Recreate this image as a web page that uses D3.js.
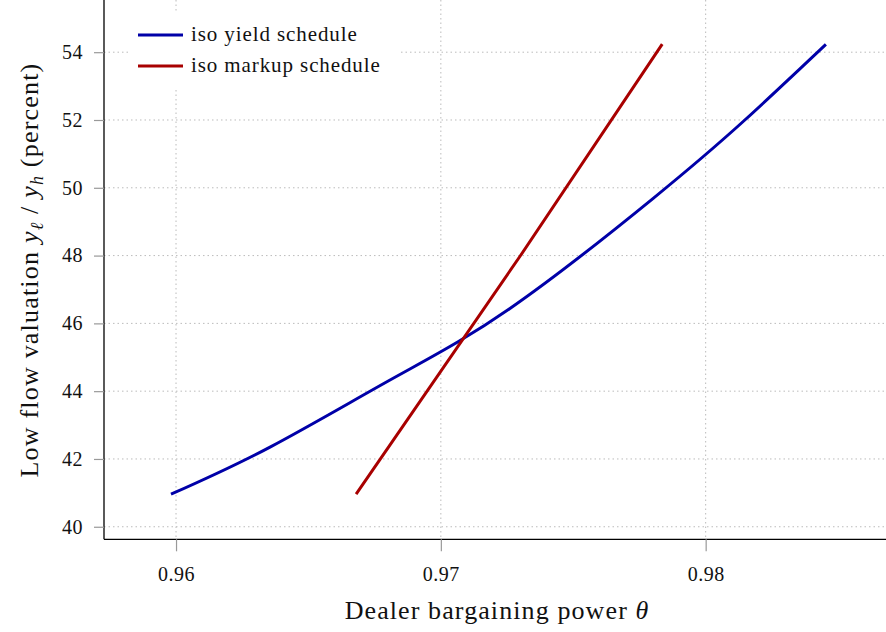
<!DOCTYPE html>
<html>
<head>
<meta charset="utf-8">
<script src="https://cdn.jsdelivr.net/npm/d3@7"></script>
<style>
  body { margin: 0; background: #fff; }
  svg text { font-family: "Liberation Serif", "DejaVu Serif", serif; fill: #111; }
  .grid line { stroke: #bbb; stroke-dasharray: 1.5 3; stroke-width: 1; }
  .axis .tick line { stroke: #999; stroke-width: 1.2; }
  .axis path.domain { stroke: #000; stroke-width: 1.3; }
</style>
</head>
<body>
<div id="chart"></div>
<script>
var yieldTheta = [0.95981, 0.96355, 0.96820, 0.97261, 0.97802, 0.98148, 0.98454];
var yieldVal = [40.96, 42.35, 44.38, 46.44, 49.69, 52.00, 54.23];
var markupTheta = [0.96680, 0.97299, 0.97836];
var markupVal = [40.96, 47.98, 54.24];
var xTicks = [0.96, 0.97, 0.98];
var yTicks = [40, 42, 44, 46, 48, 50, 52, 54];
var seriesNames = ["iso yield schedule", "iso markup schedule"];
var seriesColors = ["#0000a8", "#a80000"];

var width = 886, height = 632;
var margin = {left: 104, right: 0, top: 0, bottom: 92.7};

var svg = d3.select("#chart").append("svg")
  .attr("width", width)
  .attr("height", height);

var xScale = d3.scaleLinear()
  .domain([0.95728, 0.98681])
  .range([margin.left, width - margin.right]);
var yScale = d3.scaleLinear()
  .domain([39.63, 55.54])
  .range([height - margin.bottom, margin.top]);

// grid
var grid = svg.append("g").attr("class", "grid");
grid.selectAll("line.h")
  .data(yTicks)
  .enter().append("line")
  .attr("class", "h")
  .attr("x1", margin.left).attr("x2", width)
  .attr("y1", d => yScale(d)).attr("y2", d => yScale(d));
grid.selectAll("line.v")
  .data(xTicks)
  .enter().append("line")
  .attr("class", "v")
  .attr("x1", d => xScale(d)).attr("x2", d => xScale(d))
  .attr("y1", 0).attr("y2", height - margin.bottom);

// lines
var series = [
  {name: seriesNames[0], color: seriesColors[0], pts: yieldTheta.map((t, i) => [t, yieldVal[i]])},
  {name: seriesNames[1], color: seriesColors[1], pts: markupTheta.map((t, i) => [t, markupVal[i]])}
];

var line = d3.line()
  .x(d => xScale(d[0]))
  .y(d => yScale(d[1]))
  .curve(d3.curveNatural);

svg.selectAll("path.series")
  .data(series)
  .enter().append("path")
  .attr("class", "series")
  .attr("d", d => line(d.pts))
  .attr("fill", "none")
  .attr("stroke", d => d.color)
  .attr("stroke-width", 3);

// axes
var xAxis = d3.axisBottom(xScale).tickValues(xTicks).tickSizeInner(12).tickSizeOuter(0)
  .tickPadding(16).tickFormat(d3.format(".2f"));
var yAxis = d3.axisLeft(yScale).tickValues(yTicks).tickSizeInner(10).tickSizeOuter(0)
  .tickPadding(11).tickFormat(d3.format("d"));

var gx = svg.append("g")
  .attr("class", "x axis")
  .attr("transform", "translate(0," + (height - margin.bottom) + ")")
  .call(xAxis);
gx.select("path.domain").attr("d", "M" + margin.left + ",0H" + width);
gx.selectAll("text").style("font-size", "20px").style("letter-spacing", "0.5px");

var gy = svg.append("g")
  .attr("class", "y axis")
  .attr("transform", "translate(" + margin.left + ",0)")
  .call(yAxis);
gy.select("path.domain").attr("d", "M0,0V" + (height - margin.bottom));
gy.selectAll("text").style("font-size", "20px").style("letter-spacing", "0.5px");

// axis labels
svg.append("text")
  .attr("x", 497)
  .attr("y", 619)
  .attr("text-anchor", "middle")
  .style("font-size", "26px")
  .style("letter-spacing", "1.1px")
  .call(t => {
    t.append("tspan").text("Dealer bargaining power ");
    t.append("tspan").style("font-style", "italic").text("θ");
  });

var yl = svg.append("text")
  .attr("transform", "translate(38,270) rotate(-90)")
  .attr("text-anchor", "middle")
  .style("font-size", "26px")
  .style("letter-spacing", "1.2px");
yl.append("tspan").text("Low flow valuation ");
yl.append("tspan").style("font-style", "italic").text("y");
yl.append("tspan").style("font-style", "italic").style("font-size", "18px").attr("dy", 5).text("ℓ");
yl.append("tspan").attr("dy", -5).text(" / ");
yl.append("tspan").style("font-style", "italic").text("y");
yl.append("tspan").style("font-style", "italic").style("font-size", "18px").attr("dy", 5).text("h");
yl.append("tspan").attr("dy", -5).text(" (percent)");

// legend
var legend = svg.append("g").attr("class", "legend");
legend.append("rect")
  .attr("x", 128).attr("y", 12)
  .attr("width", 273).attr("height", 76)
  .attr("fill", "#fff");
var li = legend.selectAll("g.item")
  .data(series)
  .enter().append("g")
  .attr("class", "item")
  .attr("transform", (d, i) => "translate(138," + (35 + i * 31) + ")");
li.append("line")
  .attr("x1", 0).attr("x2", 45)
  .attr("stroke", d => d.color)
  .attr("stroke-width", 3);
li.append("text")
  .attr("x", 53)
  .attr("y", 6)
  .style("font-size", "21px")
  .style("letter-spacing", "0.9px")
  .text(d => d.name);
</script>
</body>
</html>
